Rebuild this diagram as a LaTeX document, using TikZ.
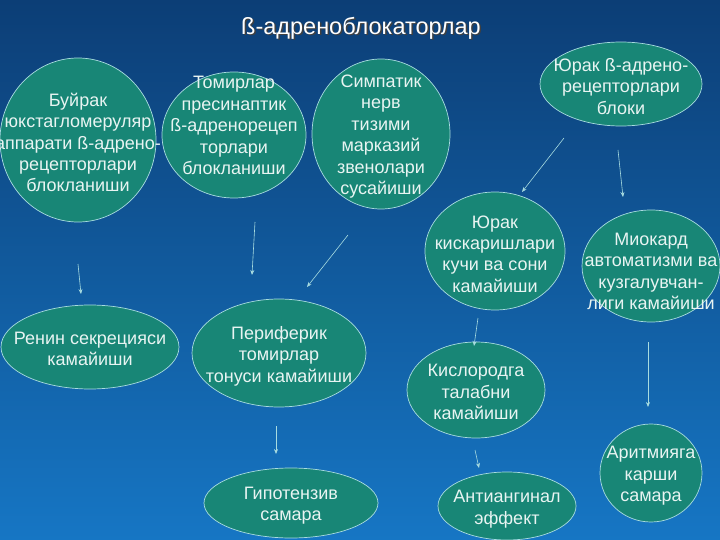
\documentclass[tikz,border=0pt]{standalone}
\usepackage{fontspec}
\setmainfont{Liberation Sans}
\usetikzlibrary{shapes.geometric,arrows.meta}
\definecolor{bgtop}{HTML}{0C3E76}
\definecolor{bgbot}{HTML}{1676C4}
\definecolor{ellfill}{HTML}{188676}
\definecolor{ellline}{HTML}{A8DCE0}
\definecolor{txt}{HTML}{E8F4F2}
\tikzset{
  ell/.style={ellipse, fill=ellfill, draw=ellline, line width=0.7pt, inner sep=0pt},
  etxt/.style={text=txt, align=center, inner sep=0pt, font=\fontsize{18}{21.4}\selectfont},
  arr/.style={-{Stealth[length=5pt,width=4pt]}, draw=ellline, line width=0.6pt}
}
\begin{document}
\begin{tikzpicture}[x=1pt,y=-1pt]
\shade[top color=bgtop, bottom color=bgbot] (0,0) rectangle (720,540);
\useasboundingbox (0,0) rectangle (720,540);
% title
\node[text=black!75, font=\fontsize{23.5}{26}\selectfont] at (362.5,29.5) {ß-адреноблокаторлар};
\node (title) [text=white, font=\fontsize{23.5}{26}\selectfont] at (361,28) {ß-адреноблокаторлар};
% ellipses
\node (buy) [ell, minimum width=156, minimum height=164] at (78,140) {};
\node (tom) [ell, minimum width=144, minimum height=126] at (234,135) {};
\node (sim) [ell, minimum width=138, minimum height=150] at (381,134) {};
\node (yurb) [ell, minimum width=162, minimum height=84] at (621,84) {};
\node (yurk) [ell, minimum width=140, minimum height=118] at (495,251) {};
\node (mio) [ell, minimum width=138, minimum height=112] at (651,266) {};
\node (ren) [ell, minimum width=178, minimum height=84] at (90,347) {};
\node (per) [ell, minimum width=174, minimum height=108] at (279,353) {};
\node (gip) [ell, minimum width=174, minimum height=70] at (291,503) {};
\node (kis) [ell, minimum width=138, minimum height=96] at (476,390) {};
\node (ant) [ell, minimum width=138, minimum height=68] at (507,506) {};
\node (ari) [ell, minimum width=102, minimum height=98] at (651,473) {};
% texts
\node (buyt) [etxt] at (78,142.5) {Буйрак\\юкстагломеруляр\\аппарати ß-адрено-\\рецепторлари\\блокланиши};
\node (tomt) [etxt] at (234,125.5) {Томирлар\\пресинаптик\\ß-адренорецеп\\торлари\\блокланиши};
\node (simt) [etxt] at (381,136.5) {Симпатик\\нерв\\тизими\\марказий\\звенолари\\сусайиши};
\node (yurbt) [etxt] at (621,86.5) {Юрак ß-адрено-\\рецепторлари\\блоки};
\node (yurkt) [etxt] at (495,254) {Юрак\\кискаришлари\\кучи ва сони\\камайиши};
\node (miot) [etxt] at (651,271.5) {Миокард\\автоматизми ва\\кузгалувчан-\\лиги камайиши};
\node (rent) [etxt] at (90,349) {Ренин секрецияси\\камайиши};
\node (pert) [etxt] at (279,356) {Периферик\\томирлар\\тонуси камайиши};
\node (gipt) [etxt] at (291,505.5) {Гипотензив\\самара};
\node (kist) [etxt] at (476,392) {Кислородга\\талабни\\камайиши};
\node (antt) [etxt] at (507,509) {Антиангинал\\эффект};
\node (arit) [etxt] at (651,476) {Аритмияга\\карши\\самара};
% arrow end points
\coordinate (a1s) at (78,264);  \coordinate (a1e) at (81,294);
\coordinate (a2s) at (255,222); \coordinate (a2e) at (252,275);
\coordinate (a3s) at (348,235); \coordinate (a3e) at (307,287);
\coordinate (a4s) at (564,138); \coordinate (a4e) at (522,192);
\coordinate (a5s) at (618,150); \coordinate (a5e) at (623,197);
\coordinate (a6s) at (478,318); \coordinate (a6e) at (474,346);
\coordinate (a7s) at (475,450); \coordinate (a7e) at (479,468);
\coordinate (a8s) at (648,342); \coordinate (a8e) at (648,407);
\coordinate (a9s) at (276,426); \coordinate (a9e) at (276,454);
\foreach \i in {1,...,9}{\draw[arr] (a\i s) -- (a\i e);}
\end{tikzpicture}
\end{document}
